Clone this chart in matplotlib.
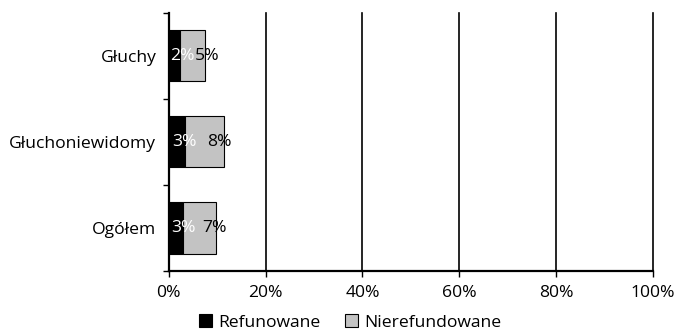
import numpy as np
import matplotlib as mpl
mpl.use('Agg')
import matplotlib.pyplot as plt
from matplotlib.ticker import FixedLocator, PercentFormatter

# Dane: udział aparatów refundowanych i nierefundowanych (%)
kategorie = ['Głuchy', 'Głuchoniewidomy', 'Ogółem']
refundowane = [2.4, 3.4, 3.0]
nierefundowane = [5.1, 8.1, 6.7]

plt.rcParams['font.family'] = ['Open Sans', 'DejaVu Sans']
fs = 12.6

fig = plt.figure(figsize=(6.78, 3.33), dpi=100)
ax = fig.add_axes([0.249, 0.187, 0.714, 0.775])

y = np.arange(len(kategorie))[::-1]
h = 0.6

b1 = ax.barh(y, refundowane, height=h, color='black', edgecolor='black',
             linewidth=0.8, label='Refunowane', zorder=3)
b2 = ax.barh(y, nierefundowane, left=refundowane, height=h, color='#c3c3c3',
             edgecolor='black', linewidth=0.8, label='Nierefundowane', zorder=3)

# etykiety wartości (zaokrąglone do pełnych procentów)
for yi, r, n in zip(y, refundowane, nierefundowane):
    ax.text(r / 2 + 1.5, yi, f'{r:.0f}%', color='white', ha='center',
            va='center', fontsize=fs, zorder=4)
    ax.text(r + n / 2 + 3.0, yi, f'{n:.0f}%', color='black', ha='center',
            va='center', fontsize=fs, zorder=4)

ax.set_xlim(0, 100)
ax.set_ylim(-0.5, len(kategorie) - 0.5)
ticks_x = np.arange(0, 101, 20)
ax.set_xticks(ticks_x)
ax.xaxis.set_major_formatter(PercentFormatter(decimals=0))
for t in ticks_x[1:]:
    ax.axvline(t, color='black', linewidth=1.2, zorder=0, clip_on=False)
ax.set_yticks(y)
ax.set_yticklabels(kategorie, fontsize=fs)
ax.yaxis.set_minor_locator(FixedLocator(np.arange(-0.5, len(kategorie), 1)))
ax.tick_params(axis='y', which='major', length=0, pad=9)
ax.tick_params(axis='y', which='minor', length=4.5, width=1, direction='out')
ax.tick_params(axis='x', length=4, width=1, labelsize=fs, pad=6)

for s in ['top', 'right']:
    ax.spines[s].set_visible(False)
ax.spines['left'].set_linewidth(1.6)
ax.spines['bottom'].set_linewidth(1.6)

fig.legend(handles=[b1, b2], loc='center', bbox_to_anchor=(0.516, 0.032),
           ncol=2, frameon=False, fontsize=fs, handlelength=0.75,
           handleheight=0.75, handletextpad=0.35, columnspacing=1.4)

plt.savefig('out.png')
plt.close()
